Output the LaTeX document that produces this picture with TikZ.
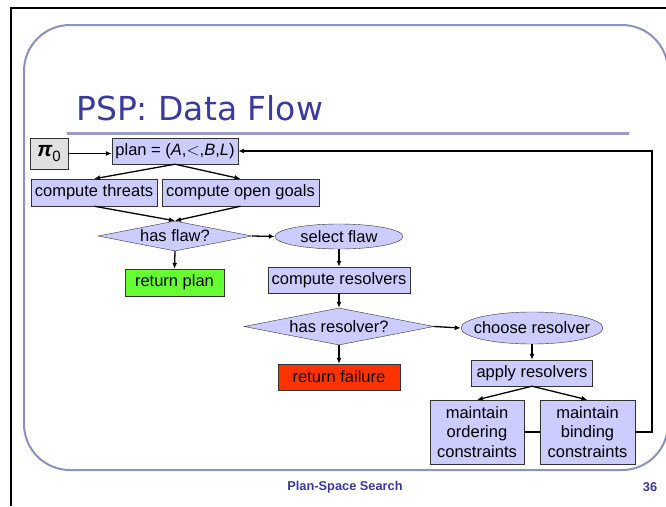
\documentclass[tikz,border=0pt]{standalone}
\usepackage{fontspec}
\setmainfont{Liberation Sans}
\newfontfamily\titlefont{DejaVu Sans}
\usetikzlibrary{shapes.geometric,arrows.meta}
\definecolor{boxblue}{HTML}{CCCCFF}
\definecolor{boxline}{HTML}{333333}
\definecolor{plangreen}{HTML}{66FF33}
\definecolor{failred}{HTML}{FF3300}
\definecolor{startgrey}{HTML}{E0E0E0}
\definecolor{slideline}{HTML}{8C92BE}
\definecolor{ruleblue}{HTML}{9A9ACB}
\definecolor{titleblue}{HTML}{3A3AA0}

\begin{document}
\begin{tikzpicture}[x=1pt, y=-1pt,
  every node/.style={font=\fontsize{16.5}{19.5}\selectfont},
  box/.style={draw=boxline, fill=boxblue, rectangle, minimum height=26pt, inner xsep=3pt, inner ysep=0pt},
  decide/.style={draw=boxline, fill=boxblue, diamond, inner sep=0pt, shape aspect=5},
  choice/.style={draw=boxline, fill=boxblue, ellipse, inner xsep=-10pt, inner ysep=0pt},
  flow/.style={-{Latex[length=6pt,width=5pt]}, line width=1.3pt}]
  \useasboundingbox (0,0) rectangle (666,506);
  \fill[white] (0,0) rectangle (666,506);
  % slide frame
  \draw[line width=1.2pt] (11,506) -- (11,8) -- (666,8);
  \draw[slideline, line width=2pt, rounded corners=46pt] (24,25) rectangle (668,470);
  \node[anchor=base west, inner sep=0pt, text=titleblue, font=\titlefont\fontsize{33}{36}\selectfont] (title) at (76,120) {PSP: Data Flow};
  \draw[ruleblue, line width=3pt] (67,133) -- (629,133);
  \node[text=titleblue, font=\bfseries\fontsize{12.8}{14}\selectfont] (footer) at (345,487) {Plan-Space Search};
  \node[text=titleblue, font=\bfseries\fontsize{12.8}{14}\selectfont] (page) at (650,487) {36};

  \node[box, fill=startgrey, minimum width=38pt, minimum height=31pt, font=\fontsize{21}{24}\selectfont] (pi0) at (49,153.5) {{\bfseries\itshape π}\raisebox{-5pt}{\fontsize{15}{15}\selectfont 0}};
  \node[box, minimum width=126pt] (plan) at (175,151) {plan = (\textit{A},$<$,\textit{B},\textit{L})};
  \node[box, minimum width=126pt, minimum height=27pt] (threats) at (94,192.5) {compute threats};
  \node[box, minimum width=157pt, minimum height=27pt] (goals) at (240.5,192.5) {compute open goals};
  \node[decide, minimum width=154pt, minimum height=30pt] (flaw) at (175,236) {has flaw?};
  \node[box, fill=plangreen, minimum width=99pt, minimum height=27pt] (retplan) at (174.5,282.5) {return plan};
  \node[choice, minimum width=128pt, minimum height=25pt] (select) at (339,236.5) {select flaw};
  \node[box, minimum width=142pt] (resolvers) at (339,280) {compute resolvers};
  \node[decide, minimum width=190pt, minimum height=37pt] (hasres) at (339,326.5) {has resolver?};
  \node[box, fill=failred, minimum width=122pt] (fail) at (339,377) {return failure};
  \node[choice, minimum width=142pt, minimum height=32pt] (choose) at (532,328) {choose resolver};
  \node[box, minimum width=121pt] (apply) at (532,373) {apply resolvers};
  \node[box, align=center, minimum width=94pt, minimum height=64pt] (ordering) at (477,432) {maintain\\ordering\\constraints};
  \node[box, align=center, minimum width=95pt, minimum height=64pt] (binding) at (587.5,432) {maintain\\binding\\constraints};
  \coordinate (back) at (652,432);

  % Draw the data flow
  \draw[flow] (pi0.east) -- (pi0.east -| plan.west);
  \draw[flow] (plan.south) -- (threats.north);
  \draw[flow] (plan.south) -- (goals.north);
  \draw[flow] (threats.south) -- (flaw.north);
  \draw[flow] (goals.south) -- (flaw.north);
  \draw[flow] (flaw.south) -- (retplan.north);
  \draw[flow] (flaw.east) -- (select.west);
  \draw[flow] (select.south) -- (resolvers.north);
  \draw[flow] (resolvers.south) -- (hasres.north);
  \draw[flow] (hasres.east) -- (choose.west);
  \draw[flow] (hasres.south) -- (fail.north);
  \draw[flow] (choose.south) -- (apply.north);
  \draw[flow] (apply.south) -- (ordering.north);
  \draw[flow] (apply.south) -- (binding.north);
  \draw[line width=1.3pt] (ordering.east) -- (binding.west);
  \draw[flow] (binding.east) -- (back) |- (plan.east);
\end{tikzpicture}
\end{document}
